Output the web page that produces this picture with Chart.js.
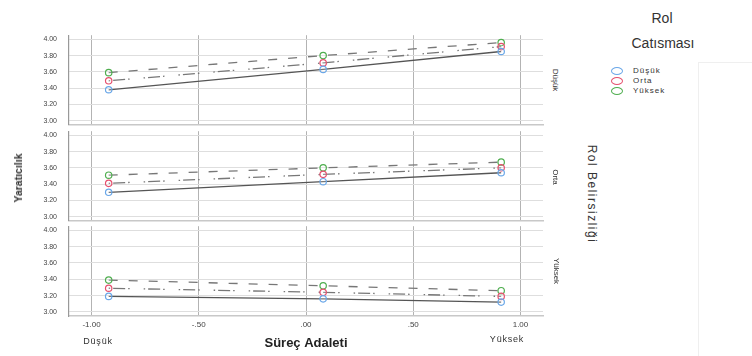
<!DOCTYPE html>
<html>
<head>
<meta charset="utf-8">
<script src="https://cdn.jsdelivr.net/npm/chart.js@4/dist/chart.umd.min.js"></script>
<style>
  body { margin: 0; background: #fff; font-family: "Liberation Sans", Arial, sans-serif; }
  #wrap { position: relative; width: 752px; height: 356px; overflow: hidden; }
  canvas { position: absolute; left: 0; }
  .lbl { position: absolute; color: #333; white-space: nowrap; }
  .vert-down { transform: translate(-50%, -50%) rotate(90deg); }
  .vert-up { transform: translate(-50%, -50%) rotate(-90deg); }
  .center { transform: translate(-50%, -50%); }
  .key { position: absolute; width: 10px; height: 6px; border: 1.5px solid; border-radius: 50%; }
  .ghost { position: absolute; left: 698px; top: 62px; width: 60px; height: 300px;
           border-left: 1px solid #efefef; border-top: 1px solid #efefef; }
</style>
</head>
<body>
<div id="wrap">
  <div class="ghost"></div>
  <canvas id="p1" width="550" height="100" style="top:30px"></canvas>
  <canvas id="p2" width="550" height="100" style="top:126px"></canvas>
  <canvas id="p3" width="550" height="135" style="top:221px"></canvas>

  <div class="lbl vert-up" style="left:18px;top:178px;font-size:10.5px;font-weight:bold;">Yaratıcılık</div>
  <div class="lbl center" style="left:98px;top:341px;font-size:9px;letter-spacing:0.8px;">Düşük</div>
  <div class="lbl center" style="left:507px;top:339px;font-size:9px;letter-spacing:0.8px;">Yüksek</div>

  <div class="lbl vert-down" style="left:555px;top:80px;font-size:8px;">Düşük</div>
  <div class="lbl vert-down" style="left:555px;top:177px;font-size:8px;">Orta</div>
  <div class="lbl vert-down" style="left:556px;top:271px;font-size:8px;">Yüksek</div>
  <div class="lbl vert-down" style="left:592px;top:194px;font-size:12px;letter-spacing:1.5px;">Rol Belirsizliği</div>

  <div class="lbl center" style="left:662px;top:18px;font-size:14px;">Rol</div>
  <div class="lbl center" style="left:663px;top:43px;font-size:14px;">Catısması</div>
  <div id="legend"></div>
</div>

<script>
// Valores: tres paneles (Rol Belirsizligi) x tres lineas (Rol Catismasi)
const xValues = [-0.92, 0.08, 0.91];
const seriesNames = ["Düşük", "Orta", "Yüksek"];
const xTicks = [-1, -0.5, 0, 0.5, 1];
const xTickLabels = ["-1.00", "-.50", ".00", ".50", "1.00"];
const yTicks = [3.0, 3.2, 3.4, 3.6, 3.8, 4.0];
const yTickLabels = ["3.00", "3.20", "3.40", "3.60", "3.80", "4.00"];

// Panel "Düşük"
const dusukPanelDusuk = [3.38, 3.63, 3.85];
const dusukPanelOrta = [3.49, 3.71, 3.91];
const dusukPanelYuksek = [3.59, 3.80, 3.96];
// Panel "Orta"
const ortaPanelDusuk = [3.30, 3.43, 3.54];
const ortaPanelOrta = [3.41, 3.52, 3.60];
const ortaPanelYuksek = [3.51, 3.60, 3.67];
// Panel "Yüksek"
const yuksekPanelDusuk = [3.19, 3.16, 3.12];
const yuksekPanelOrta = [3.29, 3.24, 3.19];
const yuksekPanelYuksek = [3.39, 3.32, 3.26];

const markerColors = ["#6aa7e8", "#e5506e", "#4fae4f"];
const lineColors = ["#555", "#777", "#777"];
const lineDashes = [[], [1.5, 3, 12, 3, 1.5, 14], [9, 11]];
const fontFamily = "'Liberation Sans', Arial, sans-serif";

const toPoints = (values) => values.map((y, i) => ({ x: xValues[i], y }));

// Los paneles se apilan como graficas separadas; se fija el ancho del eje y
// y se anulan sus rellenos para que las tres areas queden alineadas.
const makePanel = (id, seriesValues, isBottom) => {
  const datasets = seriesValues.map((values, i) => ({
    label: seriesNames[i],
    data: toPoints(values),
    borderColor: lineColors[i],
    borderWidth: 1.3,
    borderDash: lineDashes[i],
    pointStyle: "circle",
    pointRadius: 3.2,
    pointBorderWidth: 1.2,
    pointBorderColor: markerColors[i],
    pointBackgroundColor: "rgba(255,255,255,0.2)",
    tension: 0
  }));

  return new Chart(document.getElementById(id), {
    type: "line",
    data: { datasets },
    options: {
      responsive: false,
      animation: false,
      events: [],
      layout: { padding: { top: 5, right: 7, bottom: isBottom ? 0 : 4, left: 0 } },
      plugins: { legend: { display: false }, tooltip: { enabled: false } },
      scales: {
        x: {
          type: "linear",
          min: -1.105,
          max: 1.105,
          afterBuildTicks: (s) => { s.ticks = xTicks.map((v) => ({ value: v })); },
          afterFit: (s) => {
            s.height = isBottom ? 40 : 0;
            s.paddingLeft = 0;
            s.paddingRight = 0;
          },
          grid: { color: "#b3b3b3", lineWidth: 1, drawTicks: false },
          border: { display: true, color: "#c8c8c8", width: 1.5 },
          ticks: {
            display: isBottom,
            padding: 4,
            color: "#444",
            font: { family: fontFamily, size: 8 },
            callback: (v) => xTickLabels[xTicks.indexOf(v)] ?? ""
          },
          title: {
            display: isBottom,
            text: "Süreç Adaleti",
            color: "#222",
            font: { family: fontFamily, size: 13, weight: "bold" },
            padding: { top: 0, bottom: 5 }
          }
        },
        y: {
          min: 2.95,
          max: 4.05,
          afterBuildTicks: (s) => { s.ticks = yTicks.map((v) => ({ value: v })); },
          afterFit: (s) => {
            s.width = 69;
            s.paddingTop = 0;
            s.paddingBottom = 0;
          },
          grid: { color: "#dedede", lineWidth: 1, drawTicks: false },
          border: { display: true, color: "#999", width: 1.2 },
          ticks: {
            padding: 12,
            color: "#444",
            font: { family: fontFamily, size: 7 },
            callback: (v) => yTickLabels[yTicks.findIndex((t) => Math.abs(t - v) < 1e-6)] ?? ""
          }
        }
      }
    }
  });
};

makePanel("p1", [dusukPanelDusuk, dusukPanelOrta, dusukPanelYuksek], false);
makePanel("p2", [ortaPanelDusuk, ortaPanelOrta, ortaPanelYuksek], false);
makePanel("p3", [yuksekPanelDusuk, yuksekPanelOrta, yuksekPanelYuksek], true);

// Leyenda manual a la derecha, fuera del area de los paneles
const legend = document.getElementById("legend");
const legendTops = [71, 81, 91];
seriesNames.forEach((name, i) => {
  const key = document.createElement("div");
  key.className = "key";
  key.style.left = "611px";
  key.style.top = (legendTops[i] - 4.5) + "px";
  key.style.borderColor = markerColors[i];
  legend.appendChild(key);

  const text = document.createElement("div");
  text.className = "lbl";
  text.textContent = name;
  text.style.left = "633px";
  text.style.top = (legendTops[i] - 5) + "px";
  text.style.fontSize = "8px";
  text.style.letterSpacing = "1px";
  text.style.lineHeight = "10px";
  legend.appendChild(text);
});
</script>
</body>
</html>
